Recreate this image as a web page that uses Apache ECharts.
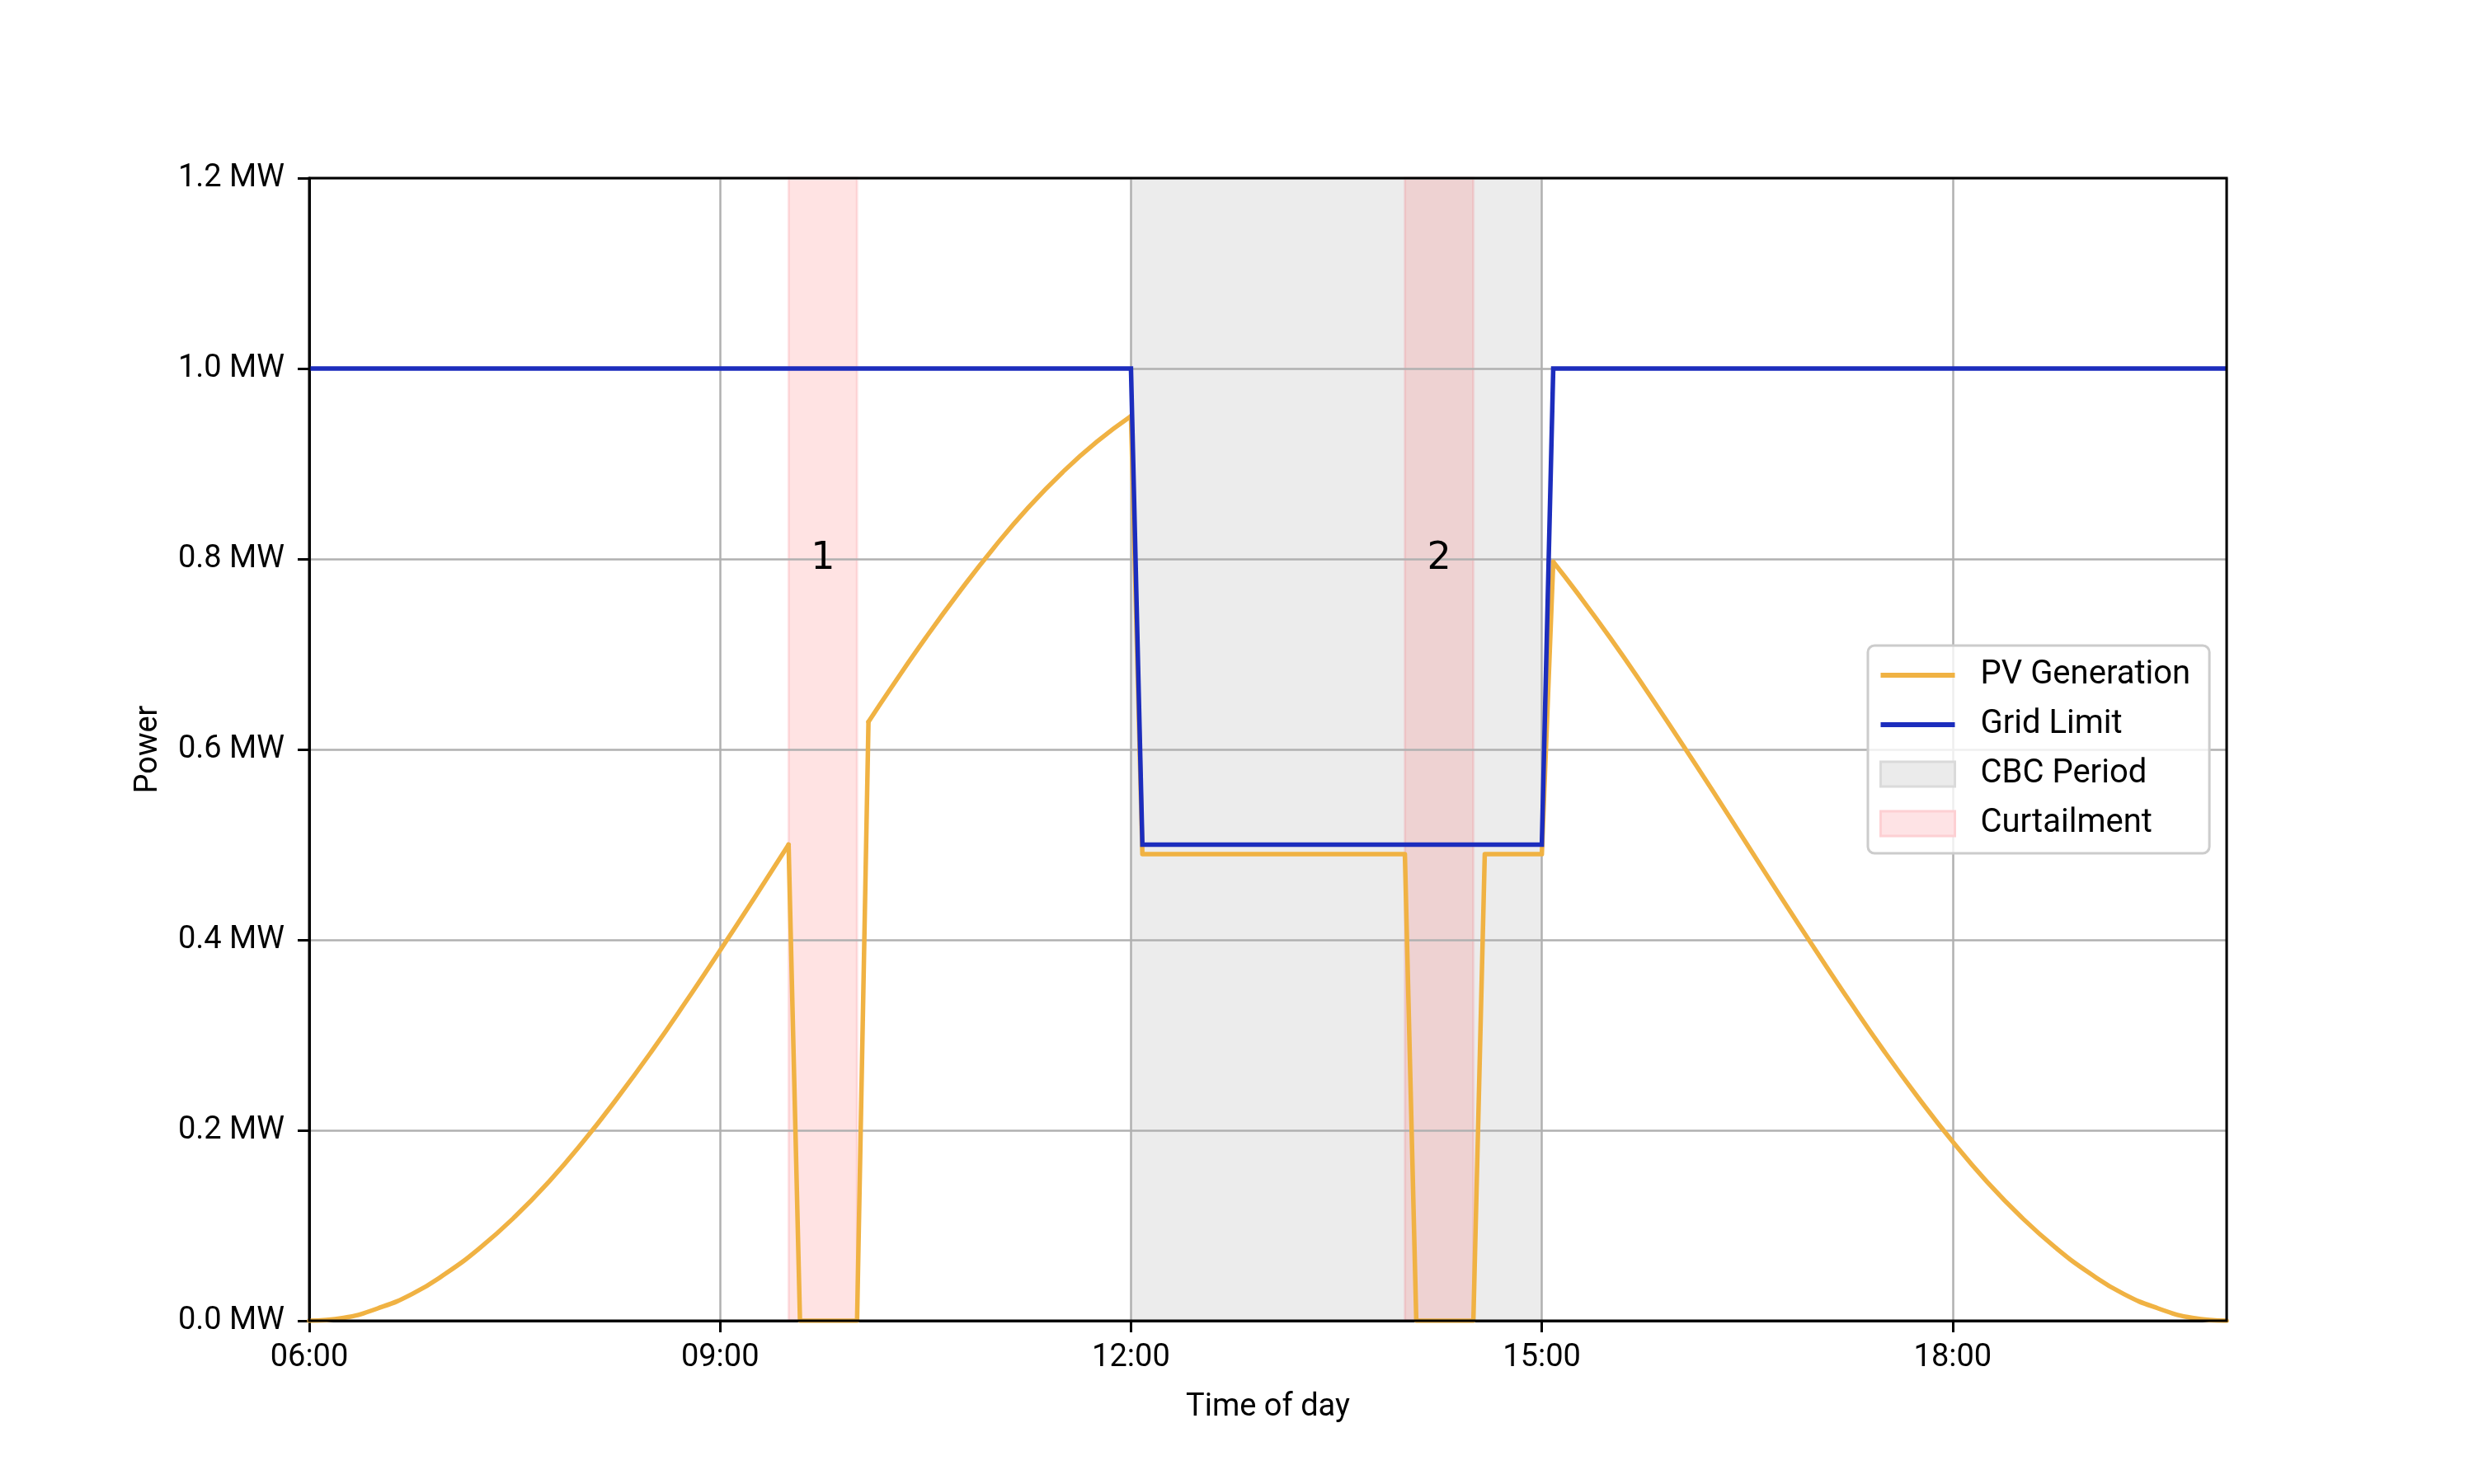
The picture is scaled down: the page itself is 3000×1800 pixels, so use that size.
<!DOCTYPE html>
<html>
<head>
<meta charset="utf-8">
<script src="https://cdn.jsdelivr.net/npm/echarts@6/dist/echarts.min.js"></script>
<style>html,body{margin:0;padding:0;background:#fff}#c{width:3000px;height:1800px}</style>
</head>
<body>
<div id="c"></div>
<script>
// ---- data ----
const pvTimes = ['06:00','06:15','06:30','06:45','07:00','07:15','07:30','07:45','08:00','08:15','08:30','08:45',
  '09:00','09:15','09:30','09:35','10:00','10:05','10:15','10:30','10:45','11:00','11:15','11:30','11:45','12:00',
  '12:05','14:00','14:05','14:30','14:35','15:00','15:05','15:15','15:30','15:45','16:00','16:15','16:30','16:45',
  '17:00','17:15','17:30','17:45','18:00','18:15','18:30','18:45','19:00','19:15','19:30','19:45','20:00'];
const pvPower = [0,0.003,0.013,0.028,0.050,0.077,0.109,0.146,0.188,0.234,0.283,0.335,
  0.389,0.444,0.500,0,0,0.629,0.665,0.717,0.766,0.812,0.854,0.891,0.923,0.950,
  0.490,0.490,0,0,0.490,0.490,0.797,0.766,0.717,0.665,0.611,0.556,0.500,0.444,
  0.389,0.335,0.283,0.234,0.188,0.146,0.109,0.077,0.050,0.028,0.013,0.003,0];
// stretches of the PV curve that follow the smooth daylight shape (no step changes)
const pvCurveRuns = [['06:00','09:30'],['10:05','12:00'],['15:05','20:00']];
const gridTimes = ['06:00','12:00','12:05','15:00','15:05','20:00'];
const gridLimit = [1.0,1.0,0.5,0.5,1.0,1.0];
const cbcPeriod = ['12:00','15:00'];
const curtailments = [['09:30','10:00'],['14:00','14:30']];
const curtailLabels = ['1','2'];
const curtailLabelY = 0.8;
const xTickLabels = ['06:00','09:00','12:00','15:00','18:00'];
const xRange = ['06:00','20:00'];
const yRange = [0, 1.2];

// ---- helpers ----
function hrs(t){ const p = t.split(':').map(Number); return p[0] + p[1]/60; }
const pvData = pvTimes.map((t,i)=>[hrs(t), pvPower[i]]);
const gridData = gridTimes.map((t,i)=>[hrs(t), gridLimit[i]]);
const runs = pvCurveRuns.map(r => [hrs(r[0]), hrs(r[1])]);
const insideRun = x => runs.some(r => x > r[0] + 1e-9 && x < r[1] - 1e-9);
const pvStepData = pvData.map(p => insideRun(p[0]) ? [p[0], null] : p);
const pvCurveData = runs.map(r => pvData.filter(p => p[0] >= r[0] - 1e-9 && p[0] <= r[1] + 1e-9));

const FONT = 'Roboto';
const PV_COLOR = '#f0b243';
const GRID_COLOR = '#1c2dbd';
const LW = 5.5;
const lineIcon = 'path://M0,0M90,30M0,12L90,12L90,18L0,18Z';

const pvSeriesBase = {
  name: 'PV Generation', type: 'line', z: 2, symbol: 'none', connectNulls: false,
  itemStyle: { color: PV_COLOR }, lineStyle: { color: PV_COLOR, width: LW, cap: 'round', join: 'round' }
};

const chart = echarts.init(document.getElementById('c'), null, {renderer:'canvas'});
chart.setOption({
  animation: false,
  backgroundColor: '#ffffff',
  grid: { left: 375, right: 300, top: 216, bottom: 198, show: true, z: 10, borderColor: '#000', borderWidth: 3, backgroundColor: 'transparent' },
  legend: {
    orient: 'vertical', left: 2265, top: 783,
    padding: [16, 23, 16, 14],
    itemWidth: 90, itemHeight: 30, itemGap: 20,
    backgroundColor: 'rgba(255,255,255,0.8)', borderColor: '#cccccc', borderWidth: 3, borderRadius: 8,
    textStyle: { fontFamily: FONT, fontSize: 40, lineHeight: 40, color: '#000', padding: [0,0,0,26] },
    data: [
      { name: 'PV Generation', icon: lineIcon, itemStyle: { color: PV_COLOR, borderWidth: 0 } },
      { name: 'Grid Limit', icon: lineIcon, itemStyle: { color: GRID_COLOR, borderWidth: 0 } },
      { name: 'CBC Period', icon: 'rect', itemStyle: { color: '#ebebeb', borderColor: '#dadada', borderWidth: 3 } },
      { name: 'Curtailment', icon: 'rect', itemStyle: { color: '#fee3e5', borderColor: '#fdd0d3', borderWidth: 3 } }
    ]
  },
  xAxis: {
    type: 'value', min: hrs(xRange[0]), max: hrs(xRange[1]), interval: 3, z: 1.5,
    name: 'Time of day', nameLocation: 'middle', nameGap: 86,
    nameTextStyle: { fontFamily: FONT, fontSize: 38, color: '#000' },
    axisLine: { show: true, onZero: false, lineStyle: { color: '#000', width: 3 } },
    axisTick: { show: true, length: 14, lineStyle: { color: '#000', width: 3 } },
    axisLabel: { fontFamily: FONT, fontSize: 38, color: '#000', margin: 26, showMaxLabel: false,
      formatter: v => { const l = xTickLabels.find(s => Math.abs(hrs(s) - v) < 1e-6); return l || ''; } },
    splitLine: { show: true, lineStyle: { color: '#b0b0b0', width: 2.5 } }
  },
  yAxis: {
    type: 'value', min: yRange[0], max: yRange[1], interval: 0.2, z: 1.5,
    name: 'Power', nameLocation: 'middle', nameGap: 176,
    nameTextStyle: { fontFamily: FONT, fontSize: 38, color: '#000' },
    axisLine: { show: true, lineStyle: { color: '#000', width: 3 } },
    axisTick: { show: true, length: 14, lineStyle: { color: '#000', width: 3 } },
    axisLabel: { fontFamily: FONT, fontSize: 38, color: '#000', margin: 30, formatter: v => v.toFixed(1) + ' MW' },
    splitLine: { show: true, lineStyle: { color: '#b0b0b0', width: 2.5 } }
  },
  series: [
    {
      name: 'CBC Period', type: 'line', data: [], z: 1, symbol: 'none',
      markArea: { silent: true, z: 1,
        itemStyle: { color: 'rgba(128,128,128,0.15)' },
        data: [[{ xAxis: hrs(cbcPeriod[0]) }, { xAxis: hrs(cbcPeriod[1]) }]] }
    },
    {
      name: 'Curtailment', type: 'line', data: [], z: 1, symbol: 'none',
      markArea: { silent: true, z: 1,
        itemStyle: { color: 'rgba(255,0,0,0.11)', borderColor: 'rgba(240,60,70,0.12)', borderWidth: 3 },
        data: curtailments.map(c => [{ xAxis: hrs(c[0]) }, { xAxis: hrs(c[1]) }]) },
      markPoint: { silent: true, symbol: 'circle', symbolSize: 1, itemStyle: { color: 'rgba(0,0,0,0)' },
        label: { show: true, position: 'inside', formatter: p => p.name, fontFamily: 'DejaVu Sans', fontSize: 46, color: '#000' },
        data: curtailments.map((c,i) => ({ name: curtailLabels[i], coord: [(hrs(c[0]) + hrs(c[1]))/2, curtailLabelY] })) }
    },
    Object.assign({}, pvSeriesBase, { data: pvStepData, smooth: false }),
    ...pvCurveData.map(d => Object.assign({}, pvSeriesBase, { data: d, smooth: 0.5 })),
    {
      name: 'Grid Limit', type: 'line', data: gridData, z: 3, symbol: 'none', smooth: false,
      itemStyle: { color: GRID_COLOR }, lineStyle: { color: GRID_COLOR, width: LW, join: 'miter' }
    }
  ]
});
</script>
</body>
</html>
